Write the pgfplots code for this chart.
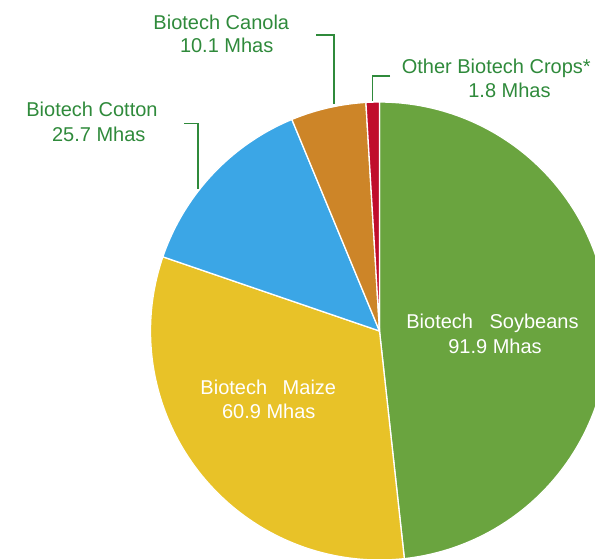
\documentclass[border=0pt]{standalone}
\usepackage{fontspec}
\setmainfont{Liberation Sans}
\usepackage{pgfplots}
\pgfplotsset{compat=1.18}
\definecolor{soy}{HTML}{6AA43F}
\definecolor{maize}{HTML}{E8C228}
\definecolor{cotton}{HTML}{3BA6E6}
\definecolor{canola}{HTML}{CD8528}
\definecolor{other}{HTML}{C00D2C}
\definecolor{lbl}{HTML}{2F8A3B}
\begin{document}
\begin{tikzpicture}
\def\cx{379.5}\def\cy{331}\def\r{229}
\def\vSoy{91.9}\def\vMaize{60.9}\def\vCotton{25.7}\def\vCanola{10.1}\def\vOther{1.8}
\pgfmathsetmacro\tot{\vSoy+\vMaize+\vCotton+\vCanola+\vOther}
\pgfmathsetmacro\aA{90}
\pgfmathsetmacro\aB{\aA-360*(\vSoy/\tot)}
\pgfmathsetmacro\aC{\aB-360*(\vMaize/\tot)}
\pgfmathsetmacro\aD{\aC-360*(\vCotton/\tot)}
\pgfmathsetmacro\aE{\aD-360*(\vCanola/\tot)}
\pgfmathsetmacro\aF{\aE-360*(\vOther/\tot)}
\begin{axis}[
  at={(0,0)}, anchor=south west,
  width=595pt, height=558pt, scale only axis,
  xmin=0, xmax=595, ymin=0, ymax=558, y dir=reverse,
  hide axis, clip=true,
  every axis plot/.append style={draw=white, line width=1.3pt, line join=round},
]
\addplot[fill=soy, domain=\aB:\aA, samples=140, variable=\t] ({\cx+\r*cos(\t)}, {\cy-\r*sin(\t)}) -- (axis cs:\cx,\cy) -- cycle;
\addplot[fill=maize, domain=\aC:\aB, samples=100, variable=\t] ({\cx+\r*cos(\t)}, {\cy-\r*sin(\t)}) -- (axis cs:\cx,\cy) -- cycle;
\addplot[fill=cotton, domain=\aD:\aC, samples=50, variable=\t] ({\cx+\r*cos(\t)}, {\cy-\r*sin(\t)}) -- (axis cs:\cx,\cy) -- cycle;
\addplot[fill=canola, domain=\aE:\aD, samples=25, variable=\t] ({\cx+\r*cos(\t)}, {\cy-\r*sin(\t)}) -- (axis cs:\cx,\cy) -- cycle;
\addplot[fill=other, domain=\aF:\aE, samples=8, variable=\t] ({\cx+\r*cos(\t)}, {\cy-\r*sin(\t)}) -- (axis cs:\cx,\cy) -- cycle;

\draw[lbl, line width=1.8pt] (axis cs:316,35) -- (axis cs:334,35) -- (axis cs:334,104);
\draw[lbl, line width=1.8pt] (axis cs:390,75.7) -- (axis cs:372.5,75.7) -- (axis cs:372.5,101);
\draw[lbl, line width=1.8pt] (axis cs:184,123.5) -- (axis cs:198,123.5) -- (axis cs:198,189);

\begin{scope}[every node/.style={anchor=base, inner sep=0pt, font=\fontsize{20}{23.5}\selectfont}]
\node[text=lbl] at (axis cs:221.3,29.3) {Biotech Canola};
\node[text=lbl] at (axis cs:226.7,52.7) {10.1 Mhas};
\node[text=lbl] at (axis cs:496.3,73.3) {Other Biotech Crops*};
\node[text=lbl] at (axis cs:509.5,97.3) {1.8 Mhas};
\node[text=lbl] at (axis cs:92,116.7) {Biotech Cotton};
\node[text=lbl] at (axis cs:98.8,141) {25.7 Mhas};
\node[text=white] at (axis cs:492.5,328.3) {Biotech\hspace{11pt} Soybeans};
\node[text=white] at (axis cs:495,353.3) {91.9 Mhas};
\node[text=white] at (axis cs:268.3,394.3) {Biotech\hspace{10pt} Maize};
\node[text=white] at (axis cs:268.8,418.3) {60.9 Mhas};
\end{scope}
\end{axis}
\pgfresetboundingbox
\useasboundingbox (0,0) rectangle (595pt,558pt);
\end{tikzpicture}
\end{document}
